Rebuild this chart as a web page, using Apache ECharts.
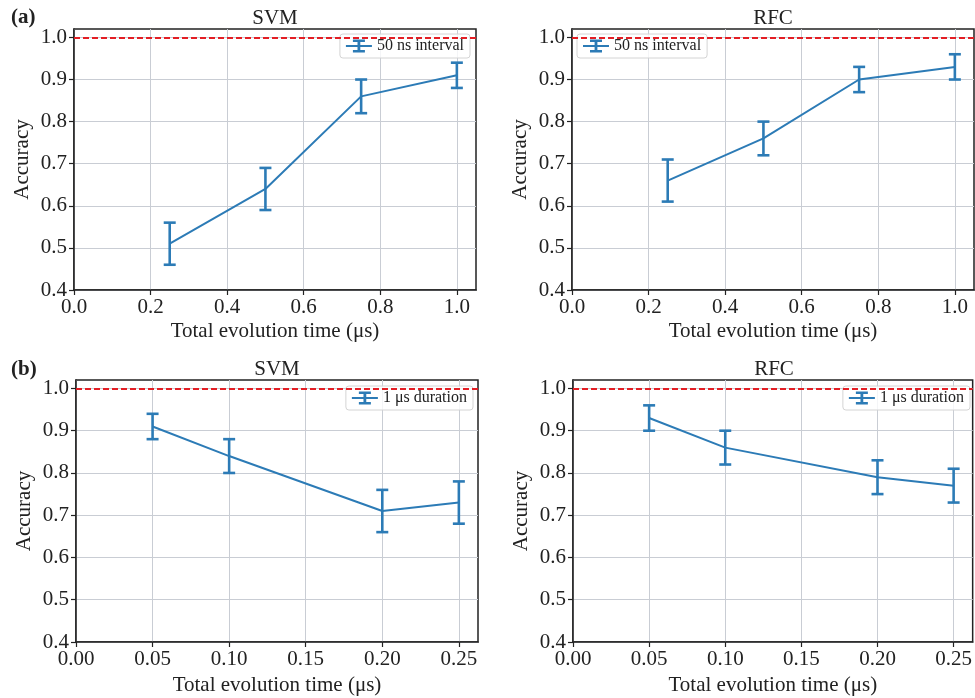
<!DOCTYPE html>
<html>
<head>
<meta charset="utf-8">
<script src="https://cdn.jsdelivr.net/npm/echarts@6/dist/echarts.min.js"></script>
<style>
html,body{margin:0;padding:0;background:#fff;}
#chart{width:975px;height:698px;}
</style>
</head>
<body>
<div id="chart"></div>
<script>
// ---- data ----
const topX = [0.25, 0.5, 0.75, 1.0];
const svmA = [0.51, 0.64, 0.86, 0.91];
const svmAErr = [0.05, 0.05, 0.04, 0.03];
const rfcA = [0.66, 0.76, 0.90, 0.93];
const rfcAErr = [0.05, 0.04, 0.03, 0.03];

const botX = [0.05, 0.10, 0.20, 0.25];
const svmB = [0.91, 0.84, 0.71, 0.73];
const svmBErr = [0.03, 0.04, 0.05, 0.05];
const rfcB = [0.93, 0.86, 0.79, 0.77];
const rfcBErr = [0.03, 0.04, 0.04, 0.04];

const yTicks = [0.4, 0.5, 0.6, 0.7, 0.8, 0.9, 1.0];
const topXTicks = [0.0, 0.2, 0.4, 0.6, 0.8, 1.0];
const botXTicks = [0.00, 0.05, 0.10, 0.15, 0.20, 0.25];
const panelTitles = ['SVM', 'RFC', 'SVM', 'RFC'];
const legendNames = ['50 ns interval', '1 \u03bcs duration'];
const xName = 'Total evolution time (\u03bcs)';
const yName = 'Accuracy';
const refLine = 1.0;

// ---- styles ----
const FONT = '"Liberation Serif", "DejaVu Serif", serif';
const BLUE = '#2c7bb6';
const RED = '#e31e24';
const GRIDC = '#c9cdd4';
const FS = 21;

const grids = [
  {left: 74, top: 29, width: 402, height: 261},
  {left: 572, top: 29, width: 402, height: 261},
  {left: 76, top: 380, width: 402, height: 262},
  {left: 573, top: 380, width: 402, height: 262}
];

const panels = [
  {x: topX, y: svmA, e: svmAErr, leg: 0, xt: topXTicks, xmax: 1.05, dec: 1, gap: 31},
  {x: topX, y: rfcA, e: rfcAErr, leg: 0, xt: topXTicks, xmax: 1.05, dec: 1, gap: 31},
  {x: botX, y: svmB, e: svmBErr, leg: 1, xt: botXTicks, xmax: 0.2625, dec: 2, gap: 33},
  {x: botX, y: rfcB, e: rfcBErr, leg: 1, xt: botXTicks, xmax: 0.2625, dec: 2, gap: 33}
];

function errRender(params, api) {
  const x = api.value(0), lo = api.value(1), hi = api.value(2);
  const p1 = api.coord([x, hi]), p2 = api.coord([x, lo]);
  const w = 6;
  const st = {stroke: BLUE, lineWidth: 2.6};
  return {type: 'group', children: [
    {type: 'line', shape: {x1: p1[0], y1: p1[1], x2: p2[0], y2: p2[1]}, style: st},
    {type: 'line', shape: {x1: p1[0] - w, y1: p1[1], x2: p1[0] + w, y2: p1[1]}, style: st},
    {type: 'line', shape: {x1: p2[0] - w, y1: p2[1], x2: p2[0] + w, y2: p2[1]}, style: st}
  ]};
}

const xAxes = [], yAxes = [], series = [], legends = [];
panels.forEach((p, i) => {
  xAxes.push({
    type: 'value', gridIndex: i, min: 0, max: p.xmax,
    name: xName, nameLocation: 'middle', nameGap: p.gap,
    nameTextStyle: {fontFamily: FONT, fontSize: FS, color: '#222'},
    axisLine: {show: true, lineStyle: {color: '#222', width: 1.5}},
    axisTick: {show: true, inside: false, length: 5, lineStyle: {color: '#222', width: 1.2}, customValues: p.xt},
    axisLabel: {customValues: p.xt, fontFamily: FONT, fontSize: FS, color: '#222', margin: 7,
      formatter: v => Number(v).toFixed(p.dec)},
    splitLine: {show: true, lineStyle: {color: GRIDC, width: 1}}
  });
  yAxes.push({
    type: 'value', gridIndex: i, min: 0.4, max: 1.02,
    name: yName, nameLocation: 'middle', nameGap: 41, nameRotate: 90,
    nameTextStyle: {fontFamily: FONT, fontSize: FS, color: '#222'},
    axisLine: {show: true, lineStyle: {color: '#222', width: 1.5}},
    axisTick: {show: true, inside: false, length: 5, lineStyle: {color: '#222', width: 1.2}, customValues: yTicks},
    axisLabel: {customValues: yTicks, fontFamily: FONT, fontSize: FS, color: '#222', margin: 7,
      formatter: v => Number(v).toFixed(1)},
    splitLine: {show: true, lineStyle: {color: GRIDC, width: 1}}
  });
  const name = legendNames[p.leg];
  series.push({
    type: 'line', name: name, xAxisIndex: i, yAxisIndex: i,
    data: p.x.map((xv, k) => [xv, p.y[k]]),
    symbol: 'none', lineStyle: {color: BLUE, width: 2}, itemStyle: {color: BLUE},
    z: 3,
    markLine: {
      silent: true, symbol: 'none', label: {show: false},
      lineStyle: {color: RED, type: [6, 3], width: 2},
      data: [{yAxis: refLine}]
    }
  });
  series.push({
    type: 'custom', name: 'err' + i, xAxisIndex: i, yAxisIndex: i,
    renderItem: errRender, encode: {x: 0, y: [1, 2]},
    data: p.x.map((xv, k) => [xv, +(p.y[k] - p.e[k]).toFixed(3), +(p.y[k] + p.e[k]).toFixed(3)]),
    z: 4
  });
});

const legendPos = [
  {right: 505, top: 34},
  {left: 577, top: 34},
  {right: 502, top: 386},
  {right: 5, top: 386}
];
const ICON = 'path://M0,5.4 L26,5.4 L26,7.4 L0,7.4 Z M11.6,0 L14.4,0 L14.4,13 L11.6,13 Z M7,0 L19,0 L19,2.6 L7,2.6 Z M7,10.4 L19,10.4 L19,13 L7,13 Z';
panels.forEach((p, i) => {
  legends.push(Object.assign({
    data: [{name: legendNames[p.leg], icon: ICON}],
    orient: 'horizontal', itemWidth: 26, itemHeight: 13, itemGap: 6,
    padding: [4, 6, 4, 6],
    backgroundColor: 'rgba(255,255,255,0.8)', borderColor: '#d4d4d4', borderWidth: 1, borderRadius: 3,
    textStyle: {fontFamily: FONT, fontSize: 16, color: '#222'},
    selectedMode: false
  }, legendPos[i]));
});

const graphics = [];
grids.forEach((g, i) => {
  graphics.push({type: 'text', x: g.left + g.width / 2, y: g.top - 11,
    style: {text: panelTitles[i], font: FS + 'px ' + FONT, fill: '#222', textAlign: 'center', textVerticalAlign: 'middle'}});
});
graphics.push({type: 'text', x: 11, y: 18, style: {text: '(a)', font: 'bold ' + FS + 'px ' + FONT, fill: '#222', textAlign: 'left', textVerticalAlign: 'middle'}});
graphics.push({type: 'text', x: 11, y: 370, style: {text: '(b)', font: 'bold ' + FS + 'px ' + FONT, fill: '#222', textAlign: 'left', textVerticalAlign: 'middle'}});

const chart = echarts.init(document.getElementById('chart'), null, {renderer: 'canvas'});
chart.setOption({
  animation: false,
  backgroundColor: '#fff',
  grid: grids.map(g => Object.assign({show: true, borderColor: '#222', borderWidth: 1.5, containLabel: false}, g)),
  xAxis: xAxes,
  yAxis: yAxes,
  legend: legends,
  series: series,
  graphic: graphics
});
</script>
</body>
</html>
